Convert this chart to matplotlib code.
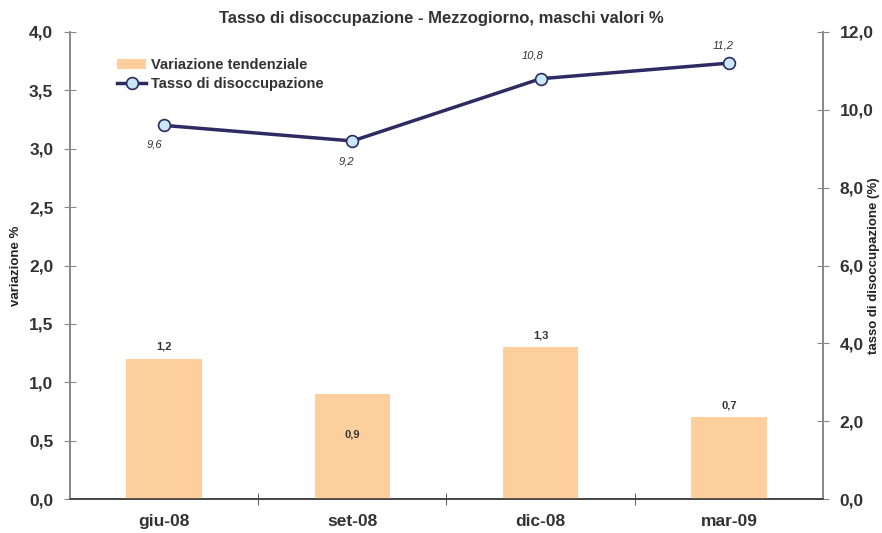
import matplotlib
matplotlib.use("Agg")
import matplotlib.pyplot as plt
import numpy as np

categories = ["giu-08", "set-08", "dic-08", "mar-09"]
variazione = [1.2, 0.9, 1.3, 0.7]
tasso = [9.6, 9.2, 10.8, 11.2]
left_ticks = [0.0, 0.5, 1.0, 1.5, 2.0, 2.5, 3.0, 3.5, 4.0]
right_ticks = [0.0, 2.0, 4.0, 6.0, 8.0, 10.0, 12.0]

plt.rcParams['font.family'] = ['Liberation Sans', 'DejaVu Sans']

def itfmt(v, d=1):
    return f"{v:.{d}f}".replace(".", ",")

fig = plt.figure(figsize=(8.82, 5.33), dpi=100)
ax = fig.add_axes([70/882, 34/533, 753/882, 467/533])
ax2 = ax.twinx()

x = np.arange(len(categories))
bar_color = "#FDCF9C"
line_color = "#2E2B62"
ax.bar(x, variazione, width=0.40, color=bar_color, zorder=2, label="Variazione tendenziale")
ax.set_xlim(-0.5, 3.5)
ax.set_ylim(0, 4.0)
ax.set_yticks(left_ticks)
ax.set_yticklabels([itfmt(v) for v in left_ticks], fontsize=12.5, fontweight="bold", color="#333333")
ax.set_xticks(x)
ax.set_xticklabels(categories, fontsize=12.5, fontweight="bold", color="#333333")
ax.set_xticks(np.arange(-0.5, 3.6, 1.0)[1:-1], minor=True)
ax.tick_params(axis="x", which="major", length=0, pad=11)
ax.tick_params(axis="x", which="minor", length=8, direction="inout", color="#444444")
ax.tick_params(axis="y", length=8, direction="inout", color="#888888", pad=8)

# bar labels
for xi, v in zip(x, variazione):
    if v == 0.9:
        ax.text(xi, 0.55, itfmt(v), ha="center", va="center", fontsize=8, fontweight="bold", color="#333333")
    else:
        ax.text(xi, v + 0.06, itfmt(v), ha="center", va="bottom", fontsize=8, fontweight="bold", color="#333333")

ax2.plot(x, tasso, color=line_color, lw=2.5, marker="o", markersize=8.5,
         markerfacecolor="#C8E8FA", markeredgecolor=line_color, markeredgewidth=1.2, zorder=3,
         label="Tasso di disoccupazione")
ax2.set_ylim(0, 12.0)
ax2.set_yticks(right_ticks)
ax2.set_yticklabels([itfmt(v) for v in right_ticks], fontsize=12.5, fontweight="bold", color="#333333")
ax2.tick_params(axis="y", length=8, direction="inout", color="#888888", pad=8)

offsets = [(-0.05, -0.48), (-0.03, -0.52), (-0.04, 0.6), (-0.03, 0.45)]
for xi, v, (dx, dy) in zip(x, tasso, offsets):
    ax2.text(xi + dx, v + dy, itfmt(v), ha="center", va="center", fontsize=8, fontstyle="italic", color="#333333")

for a in (ax, ax2):
    a.spines["top"].set_visible(False)
    a.spines["left"].set_color("#888888")
    a.spines["right"].set_color("#888888")
    a.spines["bottom"].set_color("#444444")
    a.spines["left"].set_linewidth(1.2)
    a.spines["right"].set_linewidth(1.2)
    a.spines["bottom"].set_linewidth(1.2)

ax.set_ylabel("variazione %", fontsize=9.5, fontweight="bold", color="#222222")
ax.yaxis.set_label_coords(-(70 - 22) / 753, 0.5)
ax2.set_ylabel("tasso di disoccupazione (%)", fontsize=9.5, fontweight="bold", color="#222222", rotation=90)
ax2.yaxis.set_label_coords((868 - 70) / 753, 0.5)

fig.text(0.5, 1 - 19/533, "Tasso di disoccupazione - Mezzogiorno, maschi valori %",
         ha="center", va="center", fontsize=12, fontweight="bold", color="#333333")

h1, l1 = ax.get_legend_handles_labels()
h2, l2 = ax2.get_legend_handles_labels()
leg = ax.legend(h1 + h2, l1 + l2, loc="upper left", bbox_to_anchor=(0.055, 0.957), frameon=False,
                prop={"size": 10.5, "weight": "bold"}, handlelength=2.0, handletextpad=0.3,
                labelspacing=0.35, borderaxespad=0)
for t in leg.get_texts():
    t.set_color("#333333")
ax.set_zorder(ax2.get_zorder() + 1)
ax.patch.set_visible(False)
fig.savefig("out.png", dpi=100)
